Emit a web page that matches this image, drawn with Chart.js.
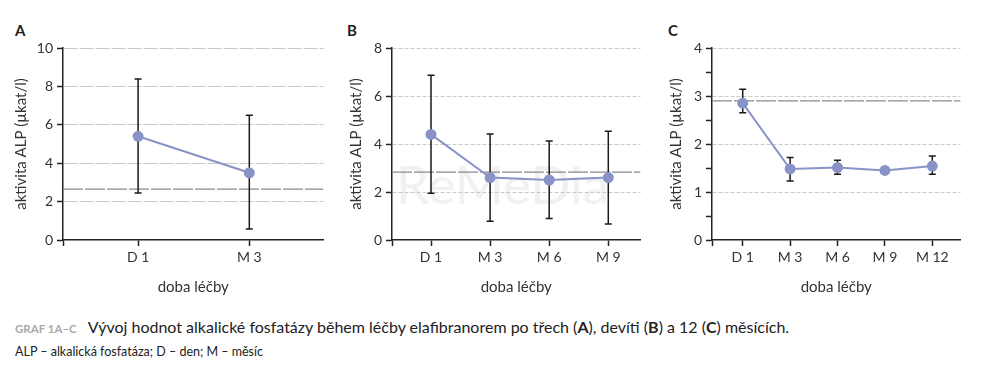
<!DOCTYPE html>
<html>
<head>
<meta charset="utf-8">
<script src="https://cdn.jsdelivr.net/npm/chart.js@4.4.1/dist/chart.umd.min.js"></script>
<style>
body { margin: 0; background: #fff; width: 995px; height: 377px; position: relative; overflow: hidden; font-family: Lato, sans-serif; color: #222; }
canvas { position: absolute; top: 0; }
.letter { position: absolute; top: 21px; font-weight: bold; font-size: 15px; }
.watermark { position: absolute; left: 396px; top: 152px; font-size: 53px; color: #f1f1f1; }
.cap1 { position: absolute; left: 15px; top: 317px; font-size: 16px; white-space: nowrap; }
.cap1 .tag { color: #aaa; font-size: 11.5px; font-weight: bold; margin-right: 11px; }
.cap2 { position: absolute; left: 15px; top: 344px; font-size: 12.5px; white-space: nowrap; }
</style>
</head>
<body>
<div class="watermark">ReMeDia</div>
<div class="letter" style="left:15px">A</div>
<div class="letter" style="left:347px">B</div>
<div class="letter" style="left:668px">C</div>
<canvas id="chartA" width="322" height="300" style="left:8px"></canvas>
<canvas id="chartB" width="304" height="300" style="left:343px"></canvas>
<canvas id="chartC" width="304" height="300" style="left:663px"></canvas>
<div class="cap1"><span class="tag">GRAF 1A–C</span>Vývoj hodnot alkalické fosfatázy během léčby elafibranorem po třech (<b>A</b>), devíti (<b>B</b>) a 12 (<b>C</b>) měsících.</div>
<div class="cap2">ALP – alkalická fosfatáza; D – den; M – měsíc</div>

<script>
// graf A - po trech mesicich
const catA = ['D 1', 'M 3'];
const meanA = [5.4, 3.5];
const lowA = [2.45, 0.57];
const highA = [8.38, 6.5];
const refA = 2.65;

// graf B - po devíti mesicich
const catB = ['D 1', 'M 3', 'M 6', 'M 9'];
const meanB = [4.4, 2.6, 2.5, 2.6];
const lowB = [1.95, 0.78, 0.9, 0.67];
const highB = [6.86, 4.42, 4.12, 4.53];
const refB = 2.83;

// graf C - po 12 mesicich
const catC = ['D 1', 'M 3', 'M 6', 'M 9', 'M 12'];
const meanC = [2.85, 1.48, 1.51, 1.45, 1.54];
const lowC = [2.65, 1.23, 1.37, 1.42, 1.37];
const highC = [3.14, 1.72, 1.66, 1.48, 1.75];
const refC = 2.9;

const yTitle = 'aktivita ALP (µkat/l)';
const xTitle = 'doba léčby';

// svisle chybove usecky pod body
const errorBars = {
    id: 'errorBars',
    beforeDatasetDraw(chart, args) {
        if (args.index !== 0) return;
        const ds = chart.data.datasets[0];
        const x = chart.scales.x, y = chart.scales.y, c = chart.ctx;
        c.save();
        c.strokeStyle = '#1a1a1a';
        c.lineWidth = 1.5;
        ds.data.forEach((p, i) => {
            const px = x.getPixelForValue(p.x);
            const top = y.getPixelForValue(ds.errHigh[i]);
            const bot = y.getPixelForValue(ds.errLow[i]);
            c.beginPath();
            c.moveTo(px, top); c.lineTo(px, bot);
            c.moveTo(px - 3.5, top); c.lineTo(px + 3.5, top);
            c.moveTo(px - 3.5, bot); c.lineTo(px + 3.5, bot);
            c.stroke();
        });
        c.restore();
    }
};

function makeChart(id, cats, mean, low, high, ref, o) {
    const ctx = document.getElementById(id).getContext('2d');
    return new Chart(ctx, {
        type: 'line',
        data: {
            datasets: [{
                data: mean.map((v, i) => ({x: i, y: v})),
                errLow: low,
                errHigh: high,
                borderColor: '#8a93c7',
                backgroundColor: '#8a93c7',
                borderWidth: 2,
                pointRadius: 4.5,
                pointHoverRadius: 4.5
            }, {
                data: [{x: o.xMin, y: ref}, {x: o.xMax, y: ref}],
                borderColor: '#8a8a8a',
                borderWidth: 1.2,
                borderDash: [20, 2],
                pointRadius: 0
            }]
        },
        options: {
            responsive: false,
            animation: false,
            events: [],
            layout: {padding: {top: 48, right: 0, bottom: 0, left: 0}},
            plugins: {legend: {display: false}, tooltip: {enabled: false}},
            scales: {
                x: {
                    type: 'linear',
                    min: o.xMin,
                    max: o.xMax,
                    afterBuildTicks: s => {
                        s.ticks = [{value: o.xMin}].concat(cats.map((c, i) => ({value: i})));
                    },
                    afterFit: s => { s.height = 60; },
                    ticks: {
                        autoSkip: false,
                        maxRotation: 0,
                        padding: 3,
                        color: '#333',
                        font: {family: 'Lato', size: 14},
                        callback: v => cats[v] !== undefined ? cats[v] : ''
                    },
                    grid: {drawOnChartArea: false, drawTicks: true, tickLength: 6, tickColor: '#222', tickWidth: 1.5},
                    border: {color: '#222', width: 1.5},
                    title: {display: true, text: xTitle, color: '#333', font: {family: 'Lato', size: 15}}
                },
                y: {
                    min: 0,
                    max: o.yMax,
                    afterBuildTicks: s => {
                        const t = [];
                        for (let v = 0; v <= o.yMax + 1e-9; v += o.yStep) t.push({value: +v.toFixed(2)});
                        s.ticks = t;
                    },
                    afterFit: s => { s.width = o.yWidth; },
                    ticks: {
                        padding: 4,
                        color: '#333',
                        font: {family: 'Lato', size: 14},
                        callback: v => (Math.abs(v % o.yLabel) < 1e-6 ? v : '')
                    },
                    grid: {
                        color: c => (c.tick && c.tick.value > 0 && Math.abs(c.tick.value % o.yLabel) < 1e-6) ? '#c9c9c9' : 'rgba(0,0,0,0)',
                        lineWidth: 1,
                        tickLength: 6,
                        tickColor: '#222',
                        tickWidth: 1.5
                    },
                    border: {color: '#222', width: 1.5, dash: o.dash},
                    title: {display: true, text: yTitle, color: '#333', font: {family: 'Lato', size: 15}}
                }
            }
        },
        plugins: [errorBars]
    });
}

makeChart('chartA', catA, meanA, lowA, highA, refA, {xMin: -0.675, xMax: 1.667, yMax: 10, yStep: 1, yLabel: 2, yWidth: 55, dash: [14, 2]});
makeChart('chartB', catB, meanB, lowB, highB, refB, {xMin: -0.66, xMax: 3.545, yMax: 8, yStep: 2, yLabel: 2, yWidth: 49, dash: [4, 2]});
makeChart('chartC', catC, meanC, lowC, highC, refC, {xMin: -0.648, xMax: 4.595, yMax: 4, yStep: 0.25, yLabel: 1, yWidth: 49, dash: [4, 2]});
</script>
</body>
</html>
